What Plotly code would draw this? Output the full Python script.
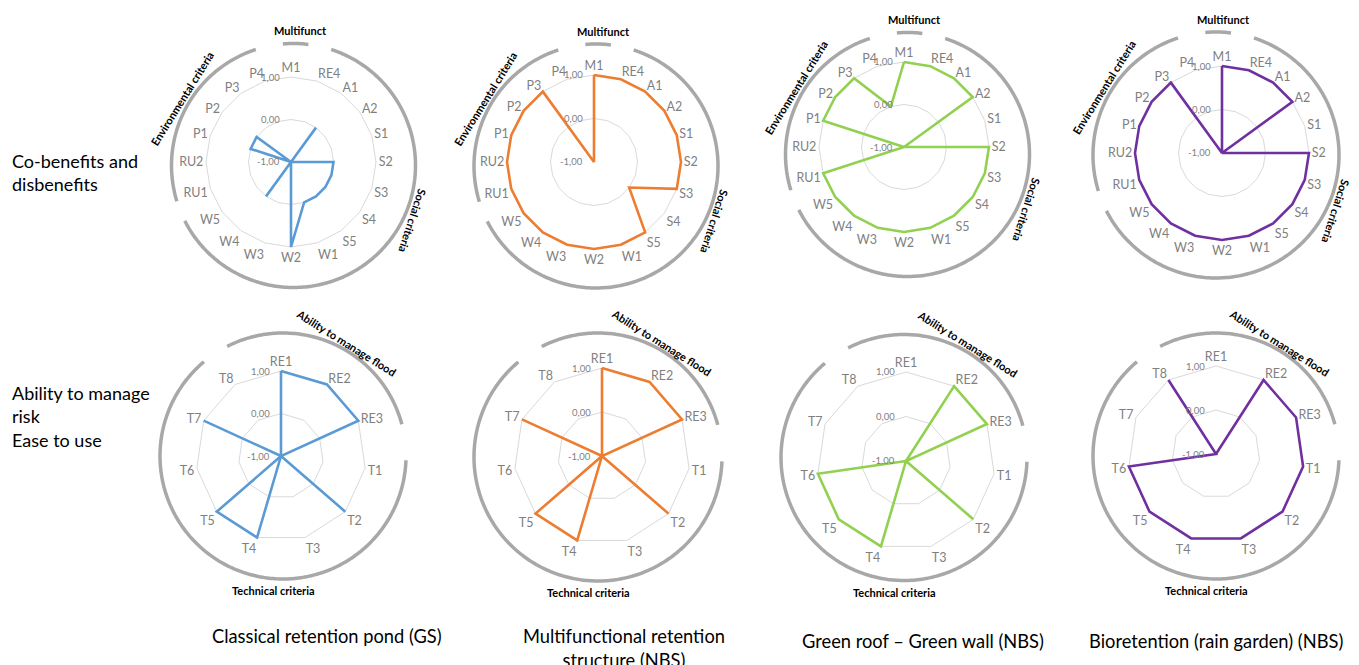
import math
import plotly.graph_objects as go

W, H = 1359, 665

# ---------------- data ----------------
top_categories = ["M1", "RE4", "A1", "A2", "S1", "S2", "S3", "S4", "S5", "W1",
                  "W2", "W3", "W4", "W5", "RU1", "RU2", "P1", "P2", "P3", "P4"]
bottom_categories = ["RE1", "RE2", "RE3", "T1", "T2", "T3", "T4", "T5", "T6", "T7", "T8"]

pond_top = [-1, -1, 0, -1, -1, 0, 0, 0, 0, 0, 1, -1, 0, -1, -1, -1, 0, 0, -1, -1]
multi_top = [1, 1, 1, 1, 1, 1, 1, 0, 1, 1, 1, 1, 1, 1, 1, 1, 1, 1, 1, -1]
roof_top = [1, 1, 1, 1, -1, 1, 1, 1, 1, 1, 1, 1, 1, 1, 1, -1, 1, 1, 1, 0]
bio_top = [1, 1, 1, 1, -1, 1, 1, 1, 1, 1, 1, 1, 1, 1, 1, 1, 1, 1, 1, -1]

pond_bottom = [1, 1, 1, -1, 1, -1, 1, 1, -1, 1, -1]
multi_bottom = [1, 1, 1, -1, 1, -1, 1, 1, -1, 1, -1]
roof_bottom = [-1, 1, 1, -1, 1, -1, 1, 1, 1, -1, -1]
bio_bottom = [-1, 1, 1, 1, 1, 1, 1, 1, 1, -1, 1]

radial_tickvals = [-1, 0, 1]
radial_ticktext = ["-1,00", "0,00", "1,00"]

solution_names = ["Classical retention pond (GS)",
                  "Multifunctional retention<br>structure (NBS)",
                  "Green roof – Green wall (NBS)",
                  "Bioretention (rain garden) (NBS)"]
row_label_top = "Co-benefits and<br>disbenefits"
row_label_bottom = "Ability to manage<br>risk<br>Ease to use"

top_group_labels = ["Multifunct", "Environmental criteria", "Social criteria"]
bottom_group_labels = ["Ability to manage flood", "Technical criteria"]

colors = ["#5b9bd5", "#ed7d31", "#92d050", "#7030a0"]

# ---------------- geometry (pixels) ----------------
# radar: (cx, cy, radius of the 1.00 ring)
top_geom = [(291, 162, 85), (594, 162, 87), (904, 147, 85), (1222, 153, 87)]
bot_geom = [(281, 456, 85), (602, 456, 88), (906, 461, 89), (1216, 454, 88)]
# decorative outer arcs: (cx, cy, radius)
top_arc_geom = [(293.5, 165.5, 122), (596, 166, 122), (907.5, 154.5, 122), (1216, 155, 123)]
bot_arc_geom = [(283, 456, 123), (598, 457, 124), (904, 457.5, 123), (1216, 456, 123)]

top_arcs = [(-5, 7), (18, 243), (253, 342)]
bot_arcs = [(-27, 75), (92, 320)]

RMIN, RMAX = -1, 1.05   # small headroom so lines on the 1.00 ring are not clipped

FONT = "Lato, 'Open Sans', sans-serif"
GRID = "#d9d9d9"
TICKC = "#7f7f7f"
ARC = "#a8a8a8"


def px(x):
    return x / W


def py(y):
    return 1 - y / H


def pt(cx, cy, r, theta):
    t = math.radians(theta)
    return cx + r * math.sin(t), cy - r * math.cos(t)


fig = go.Figure()
layout = {}
shapes = []
annotations = []

top_series = [pond_top, multi_top, roof_top, bio_top]
bot_series = [pond_bottom, multi_bottom, roof_bottom, bio_bottom]

idx = 0
for row, (geoms, arcgeoms, cats, series) in enumerate(
        [(top_geom, top_arc_geom, top_categories, top_series),
         (bot_geom, bot_arc_geom, bottom_categories, bot_series)]):
    for col in range(4):
        idx += 1
        name = "polar" if idx == 1 else f"polar{idx}"
        cx, cy, R = geoms[col]
        Rd = R * (RMAX - RMIN) / 2.0
        ax_, ay_, Ra = arcgeoms[col]
        vals = series[col]
        fig.add_trace(go.Scatterpolar(
            r=vals + [vals[0]], theta=cats + [cats[0]], mode="lines",
            line=dict(color=colors[col], width=2.6),
            subplot=name, showlegend=False, hoverinfo="skip"))
        layout[name] = dict(
            domain=dict(x=[px(cx - Rd), px(cx + Rd)], y=[py(cy + Rd), py(cy - Rd)]),
            bgcolor="rgba(0,0,0,0)",
            gridshape="linear",
            radialaxis=dict(range=[RMIN, RMAX], tickvals=radial_tickvals,
                            showticklabels=False, showline=False, ticks="", angle=90,
                            gridcolor=GRID, gridwidth=1, layer="below traces"),
            angularaxis=dict(direction="clockwise", rotation=90, type="category",
                             categoryarray=cats, showgrid=False, showline=False,
                             ticks="", layer="below traces",
                             tickfont=dict(family=FONT, size=12.5, color=TICKC)),
        )
        # radial tick labels, placed left of the vertical axis at each ring level
        for v, t in zip(radial_tickvals, radial_ticktext):
            ry = cy - R * (v - RMIN) / 2.0
            annotations.append(dict(text=t, x=px(cx - 9), y=py(ry), xref="paper", yref="paper",
                                    showarrow=False, xanchor="right", yanchor="middle",
                                    font=dict(family=FONT, size=9.5, color=TICKC)))
        # outer arcs
        arcs = top_arcs if row == 0 else bot_arcs
        for a0, a1 in arcs:
            n = int(abs(a1 - a0)) + 1
            pts = [pt(ax_, ay_, Ra, a0 + (a1 - a0) * i / n) for i in range(n + 1)]
            path = "M " + " L ".join(f"{px(x):.5f},{py(y):.5f}" for x, y in pts)
            shapes.append(dict(type="path", path=path, xref="paper", yref="paper",
                               line=dict(color=ARC, width=3.5)))
        # group labels
        if row == 0:
            specs = [(top_group_labels[0], 3, Ra + 13, 0),
                     (top_group_labels[1], 301, Ra + 8, -58),
                     (top_group_labels[2], 115, Ra + 9, 108)]
        else:
            specs = [(bottom_group_labels[0], 29, Ra + 7, 32),
                     (bottom_group_labels[1], 184, Ra + 12, 0)]
        for text, th, rr, ang in specs:
            x, y = pt(ax_, ay_, rr, th)
            annotations.append(dict(text=f"<b>{text}</b>", x=px(x), y=py(y), xref="paper",
                                    yref="paper", showarrow=False, textangle=ang,
                                    xanchor="center", yanchor="middle",
                                    font=dict(family=FONT, size=11, color="#000000")))

# row labels
annotations.append(dict(text=row_label_top, x=px(10), y=py(173), xref="paper", yref="paper",
                        showarrow=False, xanchor="left", yanchor="middle", align="left",
                        font=dict(family=FONT, size=18, color="#000000")))
annotations.append(dict(text=row_label_bottom, x=px(10), y=py(416.5), xref="paper", yref="paper",
                        showarrow=False, xanchor="left", yanchor="middle", align="left",
                        font=dict(family=FONT, size=18, color="#000000")))

# solution names
name_pos = [(327, 636), (624, 647.5), (923, 641), (1216, 641)]
for (x, y), txt in zip(name_pos, solution_names):
    annotations.append(dict(text=txt, x=px(x), y=py(y), xref="paper", yref="paper",
                            showarrow=False, xanchor="center", yanchor="middle", align="center",
                            font=dict(family=FONT, size=18.3, color="#000000")))

fig.update_layout(width=W, height=H, autosize=False,
                  margin=dict(l=0, r=0, t=0, b=0),
                  paper_bgcolor="white", plot_bgcolor="white",
                  showlegend=False, shapes=shapes, annotations=annotations,
                  **layout)

fig.write_html("out.html", config={"displayModeBar": False},
               post_script="document.body.style.margin='0px';document.body.style.padding='0px';")
